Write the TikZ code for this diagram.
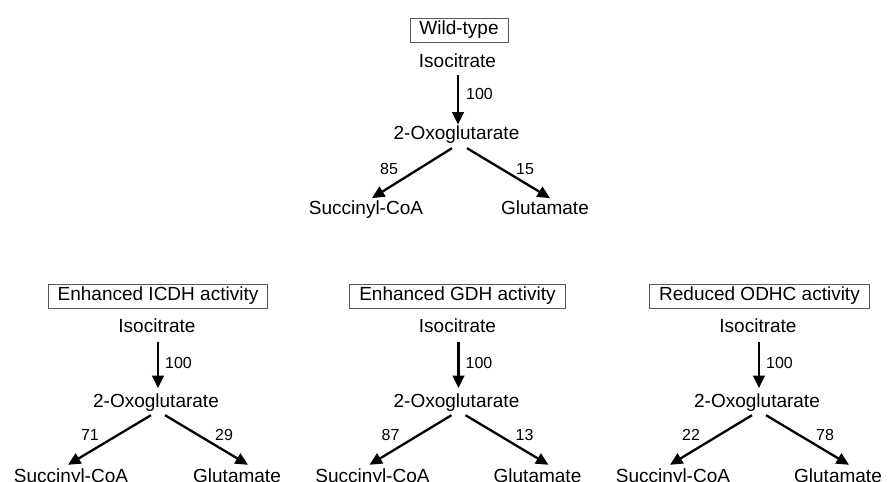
\documentclass[tikz,border=0pt]{standalone}
\usepackage{fontspec}
\setmainfont{Liberation Sans}
\usetikzlibrary{arrows.meta}
\begin{document}
\begin{tikzpicture}[x=1bp,y=-1bp,
  met/.style={inner sep=0pt,anchor=base,text height=13.7bp,text depth=4bp,
    font=\fontsize{19bp}{22bp}\selectfont},
  flux/.style={inner sep=0pt,anchor=base,font=\fontsize{16bp}{18bp}\selectfont},
  title/.style={draw=black!65,line width=0.8bp,anchor=base,inner xsep=9.5bp,inner ysep=2.5bp,
    text height=14bp,text depth=5bp,font=\fontsize{19bp}{22bp}\selectfont},
  arr/.style={line width=2.3bp,-{Triangle[length=12.5bp,width=11.5bp]}}]
\useasboundingbox (0,0) rectangle (893,482);

% Wild-type
\node[title] (wt) at (459,35) {Wild-type};
\node[met] (wtiso) at (457.5,68) {Isocitrate};
\node[met] (wtoxo) at (456.5,140) {2-Oxoglutarate};
\node[met] (wtsuc) at (366,215) {Succinyl-CoA};
\node[met] (wtglu) at (545,215) {Glutamate};
\node[flux] (wta) at (479.5,100) {100};
\node[flux] (wtb) at (389,175) {85};
\node[flux] (wtc) at (525,175) {15};
\draw[arr] ([yshift=-3bp]wtiso.south -| 458,0) -- ([yshift=1.5bp]wtoxo.north -| 458,0);
\draw[arr] ([shift={(-4.5bp,-4bp)}]wtoxo.south) -- ([shift={(6bp,3bp)}]wtsuc.north);
\draw[arr] ([shift={(10.5bp,-4bp)}]wtoxo.south) -- ([shift={(5bp,3bp)}]wtglu.north);

% Enhanced ICDH
\node[title] (ia) at (158,301) {Enhanced ICDH activity};
\node[met] (iiso) at (157,333) {Isocitrate};
\node[met] (ioxo) at (156,407) {2-Oxoglutarate};
\node[met] (isuc) at (71,482) {Succinyl-CoA};
\node[met] (iglu) at (237,482) {Glutamate};
\node[flux] (ifa) at (178.5,368) {100};
\node[flux] (ifb) at (90,440) {71};
\node[flux] (ifc) at (224,440) {29};
\draw[arr] ([yshift=-5bp]iiso.south -| 158,0) -- ([yshift=5bp]ioxo.north -| 158,0);
\draw[arr] ([shift={(-5bp,-4bp)}]ioxo.south) -- ([shift={(-3bp,3.3bp)}]isuc.north);
\draw[arr] ([shift={(9bp,-4bp)}]ioxo.south) -- ([shift={(11bp,3.3bp)}]iglu.north);

% Enhanced GDH
\node[title] (ga) at (457.5,301) {Enhanced GDH activity};
\node[met] (giso) at (457.5,333) {Isocitrate};
\node[met] (goxo) at (456.5,407) {2-Oxoglutarate};
\node[met] (gsuc) at (372.5,482) {Succinyl-CoA};
\node[met] (gglu) at (537.5,482) {Glutamate};
\node[flux] (gfa) at (479,368) {100};
\node[flux] (gfb) at (390.5,440) {87};
\node[flux] (gfc) at (524.5,440) {13};
\draw[arr] ([yshift=-5bp]giso.south -| 458.5,0) -- ([yshift=5bp]goxo.north -| 458.5,0);
\draw[arr] ([shift={(-5bp,-4bp)}]goxo.south) -- ([shift={(-3bp,3.3bp)}]gsuc.north);
\draw[arr] ([shift={(9bp,-4bp)}]goxo.south) -- ([shift={(11bp,3.3bp)}]gglu.north);

% Reduced ODHC
\node[title] (ra) at (759.5,301) {Reduced ODHC activity};
\node[met] (riso) at (758,333) {Isocitrate};
\node[met] (roxo) at (757,407) {2-Oxoglutarate};
\node[met] (rsuc) at (673,482) {Succinyl-CoA};
\node[met] (rglu) at (838,482) {Glutamate};
\node[flux] (rfa) at (779.5,368) {100};
\node[flux] (rfb) at (691,440) {22};
\node[flux] (rfc) at (825,440) {78};
\draw[arr] ([yshift=-5bp]riso.south -| 759,0) -- ([yshift=5bp]roxo.north -| 759,0);
\draw[arr] ([shift={(-5bp,-4bp)}]roxo.south) -- ([shift={(-3bp,3.3bp)}]rsuc.north);
\draw[arr] ([shift={(9bp,-4bp)}]roxo.south) -- ([shift={(11bp,3.3bp)}]rglu.north);
\end{tikzpicture}
\end{document}
